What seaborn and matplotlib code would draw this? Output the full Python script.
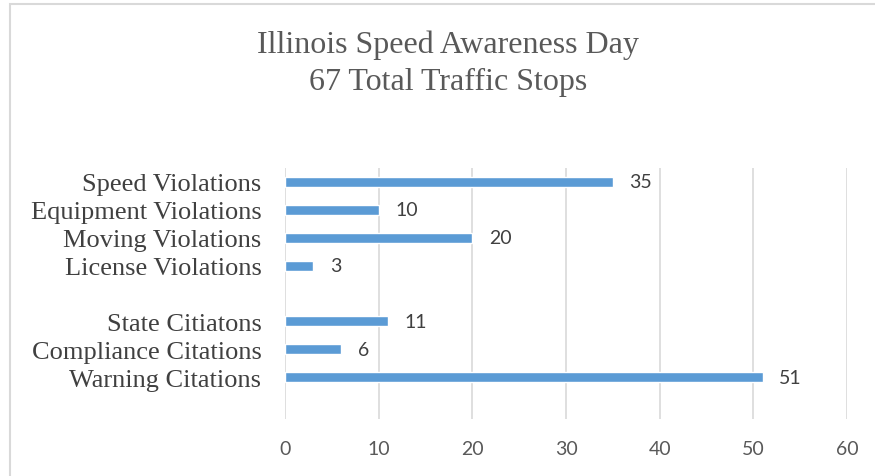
import numpy as np
import pandas as pd
import matplotlib
matplotlib.use("Agg")
import matplotlib.pyplot as plt
import seaborn as sns
from matplotlib.patches import Rectangle

# chart data (top to bottom), blank rows act as spacers like the original
categories = ["Speed Violations", "Equipment Violations", "Moving Violations",
              "License Violations", " ", "State Citiatons", "Compliance Citations",
              "Warning Citations", "  "]
counts = [35, 10, 20, 3, np.nan, 11, 6, 51, np.nan]
title_lines = ["Illinois Speed Awareness Day", "67 Total Traffic Stops"]
x_ticks = [0, 10, 20, 30, 40, 50, 60]

df = pd.DataFrame({"category": categories, "count": counts})

sns.set_style("white")
text_gray = "#595959"
bar_blue = "#5B9BD5"
grid_gray = "#D9D9D9"

fig = plt.figure(figsize=(8.75, 4.77), dpi=100)
ax = fig.add_axes([285 / 875, 1 - 420 / 477, (847 - 285) / 875, (420 - 169) / 477])

sns.barplot(data=df, x="count", y="category", order=categories, color=bar_blue,
            width=0.36, saturation=1, ax=ax)

ax.set_xlim(0, 60)
ax.set_ylim(len(categories) - 0.5, -0.5)
ax.set_xticks(x_ticks)
ax.xaxis.grid(True, color=grid_gray, linewidth=1.2)
ax.set_axisbelow(True)
for s in ax.spines.values():
    s.set_visible(False)
ax.set_xlabel("")
ax.set_ylabel("")
ax.tick_params(axis="both", length=0)
ax.tick_params(axis="x", pad=15)
ax.tick_params(axis="y", pad=17)

for lbl in ax.get_xticklabels():
    lbl.set_fontfamily("Lato")
    lbl.set_fontsize(14)
    lbl.set_color(text_gray)
for lbl in ax.get_yticklabels():
    lbl.set_fontfamily("Liberation Serif")
    lbl.set_fontsize(19)
    lbl.set_color("#404040")

# value labels
for i, v in enumerate(counts):
    if not np.isnan(v):
        ax.annotate(f"{int(v)}", (v, i), xytext=(12, 0), textcoords="offset points",
                    va="center", ha="left", fontsize=14, family="Lato", color="#404040")

fig.text(0.512, 1 - 45 / 477, title_lines[0], ha="center", va="center",
         family="Liberation Serif", fontsize=23, color=text_gray)
fig.text(0.512, 1 - 82 / 477, title_lines[1], ha="center", va="center",
         family="Liberation Serif", fontsize=23, color=text_gray)

# chart frame (only left/top edges visible in the crop)
fig.patches.append(Rectangle((10 / 875, -0.1), 1.2, 1 - 5 / 477 + 0.1,
                             transform=fig.transFigure, fill=False,
                             edgecolor="#D9D9D9", linewidth=1.5))

fig.savefig("out.png", dpi=100)
